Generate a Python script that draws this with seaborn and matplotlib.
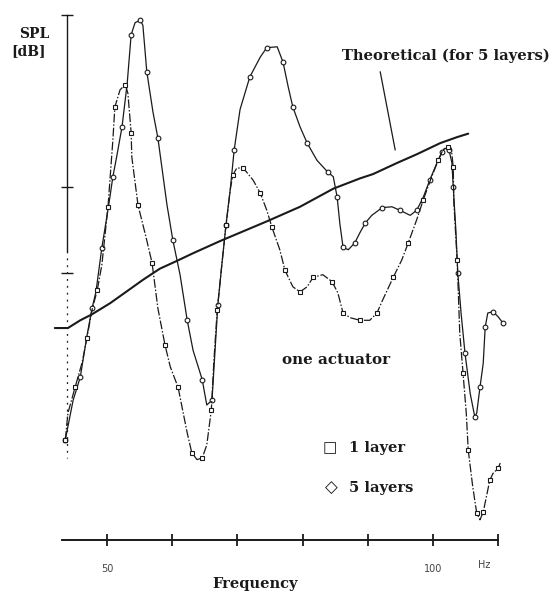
import matplotlib
matplotlib.use("Agg")
import matplotlib.pyplot as plt
import seaborn as sns
import pandas as pd

# ---------------- data ----------------
# Frequency [Hz] / SPL [dB, arbitrary offset]
freq_5 = [43.6, 44.8, 45.9, 46.9, 47.7, 48.3, 49.2, 50.3, 50.9, 51.5, 52.3, 53.1, 53.7, 54.3,
          55.1, 55.5, 56.1, 57.05, 57.8, 59.2, 60.1, 61.2, 62.3, 63.2, 64.6, 65.3, 66.1, 66.6,
          67.0, 67.6, 68.25, 68.9, 69.5, 70.4, 71.9, 73.5, 74.5, 76.1, 77.0, 77.8, 78.5, 79.6,
          80.7, 82.2, 83.9, 84.7, 85.3, 85.7, 86.2, 87.0, 88.0, 88.8, 89.6, 90.6, 92.2, 93.7,
          94.9, 96.5, 97.5, 98.5, 99.5, 100.6, 101.4, 101.8, 102.45, 102.9, 103.1, 103.5, 103.8,
          104.3, 104.9, 105.7, 106.4, 106.7, 107.2, 107.7, 108.0, 108.4, 109.2, 110.0, 110.7]
spl_5 = [10.6, 15.2, 17.9, 22.6, 25.9, 27.8, 32.9, 38.1, 41.2, 43.6, 47.0, 52.1, 57.7, 59.1,
         59.4, 58.8, 53.4, 48.7, 45.7, 37.9, 33.8, 29.8, 24.5, 21.0, 17.6, 14.65, 15.2, 21.4,
         26.3, 30.9, 35.6, 39.7, 44.3, 49.0, 52.8, 55.1, 56.2, 56.3, 54.5, 51.6, 49.3, 47.0,
         45.1, 43.1, 41.7, 41.2, 38.8, 35.8, 33.0, 32.7, 33.5, 34.7, 35.8, 36.7, 37.6, 37.7,
         37.3, 36.7, 37.3, 38.8, 40.8, 42.8, 44.1, 44.5, 44.3, 42.8, 40.0, 35.0, 30.0,
         25.35, 20.7, 16.0, 13.3, 13.7, 16.7, 19.5, 23.7, 25.35, 25.5, 24.9, 24.2]

freq_1 = [43.6, 44.0, 45.1, 46.2, 46.9, 47.7, 48.5, 49.2, 50.15, 50.9, 51.2, 52.0, 52.8, 53.2,
          53.7, 53.8, 54.75, 56.0, 56.9, 57.8, 58.9, 59.7, 60.9, 62.3, 63.0, 63.8, 64.6, 65.3,
          66.0, 66.4, 66.9, 67.6, 68.25, 68.9, 69.3, 69.9, 70.9, 72.4, 73.5, 74.5, 75.3, 76.5,
          77.3, 78.5, 79.6, 80.7, 81.6, 83.1, 84.5, 85.4, 86.2, 87.3, 88.8, 90.3, 91.4, 92.3,
          93.9, 95.2, 96.2, 97.5, 98.5, 99.8, 100.8, 101.5, 102.3, 102.8, 103.1, 103.2, 103.7,
          104.1, 104.6, 105.1, 105.4, 106.1, 106.7, 107.2, 107.7, 108.3, 108.7, 109.2, 110.0, 110.3]
spl_1 = [10.6, 13.7, 16.7, 19.65, 22.4, 25.7, 28.0, 30.9, 37.7, 45.5, 49.3, 51.3, 51.9, 50.9,
         46.3, 43.5, 37.9, 34.1, 31.2, 25.9, 21.6, 19.1, 16.7, 11.4, 9.1, 8.3, 8.5, 10.0,
         14.1, 19.9, 25.7, 30.9, 35.6, 39.7, 41.4, 42.2, 42.2, 40.8, 39.3, 37.3, 35.3, 32.7,
         30.3, 28.4, 27.8, 28.4, 29.5, 29.8, 29.0, 27.7, 25.35, 24.8, 24.5, 24.5, 25.35, 26.9,
         29.5, 31.5, 33.5, 36.2, 38.5, 41.2, 43.1, 44.3, 44.7, 44.5, 42.3, 38.1, 31.5,
         23.0, 18.4, 13.7, 9.4, 5.1, 2.1, 1.3, 2.2, 4.4, 5.9, 6.7, 7.3, 7.9]

freq_th = [42.0, 44.0, 45.9, 47.7, 50.5, 53.1, 55.5, 58.1, 60.7, 63.2, 67.3, 74.5, 79.6,
           84.7, 88.8, 90.8, 94.5, 97.5, 101.1, 103.7, 105.4]
spl_th = [23.6, 23.6, 24.5, 25.2, 26.5, 27.9, 29.2, 30.5, 31.4, 32.3, 33.7, 36.0, 37.7,
          39.8, 41.0, 41.5, 42.8, 43.8, 45.1, 45.8, 46.2]

x_ticks = [50, 60, 70, 80, 90, 100, 110]
x_tick_labels = ["50", "", "", "", "", "100", ""]
y_ticks = [30, 40, 60]

# ---------------- figure ----------------
sns.set_theme(style="white")
plt.rcParams["font.family"] = ["DejaVu Serif", "DejaVu Sans"]

W, H = 554, 602
fig = plt.figure(figsize=(W / 100, H / 100), dpi=100)
fig.patch.set_facecolor("white")
ax = fig.add_axes([40 / W, 1 - 555 / H, 480 / W, 550 / H])
ax.set_facecolor("white")
ax.set_xlim(39.72, 113.34)
ax.set_ylim(-2.79, 61.16)

ink = "#1a1a1a"

df5 = pd.DataFrame({"f": freq_5, "spl": spl_5})
df1 = pd.DataFrame({"f": freq_1, "spl": spl_1})
dth = pd.DataFrame({"f": freq_th, "spl": spl_th})

sns.lineplot(data=dth, x="f", y="spl", sort=False, estimator=None, ax=ax,
             color=ink, lw=1.5, clip_on=False)
sns.lineplot(data=df5, x="f", y="spl", sort=False, estimator=None, ax=ax,
             color=ink, lw=0.9, marker="o", markersize=3.4, mfc="white", mec=ink,
             mew=0.8, markevery=2, clip_on=False)
sns.lineplot(data=df1, x="f", y="spl", sort=False, estimator=None, ax=ax,
             color=ink, lw=0.9, linestyle=(0, (7, 1.5, 1.2, 1.5)), marker="s",
             markersize=3.2, mfc="white", mec=ink, mew=0.8, markevery=2, clip_on=False)

# pointer line for the theoretical label
ax.plot([91.9, 94.2], [53.4, 44.3], color=ink, lw=0.9)

# axes styling
for s in ["top", "right"]:
    ax.spines[s].set_visible(False)
ax.spines["bottom"].set_position(("data", -1.05))
ax.spines["bottom"].set_bounds(43.1, 110.0)
ax.spines["bottom"].set_linewidth(1.4)
ax.spines["bottom"].set_color(ink)
ax.spines["left"].set_position(("data", 43.87))
ax.spines["left"].set_bounds(32.5, 60.0)
ax.spines["left"].set_linewidth(1.0)
ax.spines["left"].set_color(ink)
ax.plot([43.87, 43.87], [32.5, 8.5], color=ink, lw=0.9, linestyle=(0, (1.5, 4)))

ax.set_xticks(x_ticks)
ax.set_xticklabels(x_tick_labels, fontsize=7, color="#444444", family="DejaVu Sans")
ax.tick_params(axis="x", direction="inout", length=9, width=1.3, color=ink, pad=13,
               bottom=True)
ax.set_yticks(y_ticks)
ax.set_yticklabels([])
ax.tick_params(axis="y", direction="inout", length=9, width=1.0, color=ink, left=True)
ax.set_xlabel("")
ax.set_ylabel("")

def ftxt(px, py, s, **kw):
    fig.text(px / W, 1 - py / H, s, **kw)

bold = dict(fontweight="bold", color=ink)
ftxt(49, 34, "SPL", ha="right", va="center", fontsize=10, **bold)
ftxt(46, 51, "[dB]", ha="right", va="center", fontsize=10, **bold)
ftxt(446, 56, "Theoretical (for 5 layers)", ha="center", va="center", fontsize=10.6, **bold)
ftxt(336, 360, "one actuator", ha="center", va="center", fontsize=10.9, **bold)
ftxt(349, 448, "1 layer", ha="left", va="center", fontsize=10.5, **bold)
ftxt(349, 488, "5 layers", ha="left", va="center", fontsize=10.5, **bold)
ftxt(330, 448, "\u25a1", ha="center", va="center", fontsize=11, color=ink, family="DejaVu Sans")
ftxt(331, 488, "\u25c7", ha="center", va="center", fontsize=12, color=ink, family="DejaVu Sans")
ftxt(255, 584, "Frequency", ha="center", va="center", fontsize=10.5, **bold)
ftxt(484, 565, "Hz", ha="center", va="center", fontsize=7, color="#444444", family="DejaVu Sans")

fig.savefig("out.png", dpi=100, facecolor="white")
